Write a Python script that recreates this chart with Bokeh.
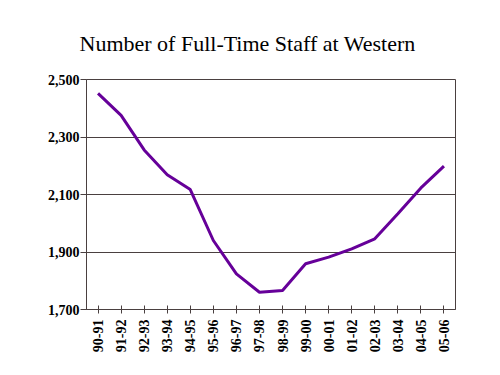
from bokeh.plotting import figure
from bokeh.embed import file_html
from bokeh.resources import INLINE
from bokeh.models import FixedTicker, NumeralTickFormatter, Range1d, Title
import math

years = ["90-91", "91-92", "92-93", "93-94", "94-95", "95-96", "96-97", "97-98",
         "98-99", "99-00", "00-01", "01-02", "02-03", "03-04", "04-05", "05-06"]
staff = [2452, 2375, 2255, 2169, 2117, 1940, 1824, 1760,
         1766, 1859, 1882, 1911, 1946, 2033, 2123, 2199]
y_ticks = [1700, 1900, 2100, 2300, 2500]

p = figure(width=484, height=359, x_range=years, y_range=Range1d(1700, 2500),
           output_backend="svg", toolbar_location=None,
           min_border_left=86, min_border_right=29, min_border_top=79, min_border_bottom=50)

t = Title(text="Number of Full-Time Staff at Western", align="left",
          text_font="Times New Roman", text_font_size="22px",
          text_font_style="normal", text_color="black", standoff=48, offset=-7)
p.add_layout(t, "above")

p.line(years, staff, line_color="#660099", line_width=3)

p.outline_line_color = "#4a4040"
p.outline_line_width = 1
p.background_fill_color = "white"
p.border_fill_color = "white"

p.xgrid.grid_line_color = None
p.ygrid.grid_line_color = "#4a4040"
p.ygrid.grid_line_width = 1
p.yaxis.ticker = FixedTicker(ticks=y_ticks)
p.yaxis.formatter = NumeralTickFormatter(format="0,0")

for ax in (p.xaxis, p.yaxis):
    ax.axis_line_color = "#4a4040"
    ax.major_tick_line_color = "#4a4040"
    ax.minor_tick_line_color = None
    ax.major_label_text_font = "Liberation Serif"
    ax.major_label_text_font_size = "14px"
    ax.major_label_text_font_style = "bold"
    ax.major_label_text_color = "black"

p.yaxis.major_tick_in = 0
p.yaxis.major_tick_out = 6
p.yaxis.major_label_standoff = 1
p.xaxis.major_tick_in = 4
p.xaxis.major_tick_out = 4
p.xaxis.major_label_orientation = math.pi / 2
p.xaxis.major_label_standoff = 6

open("out.html", "w").write(file_html(p, INLINE))
